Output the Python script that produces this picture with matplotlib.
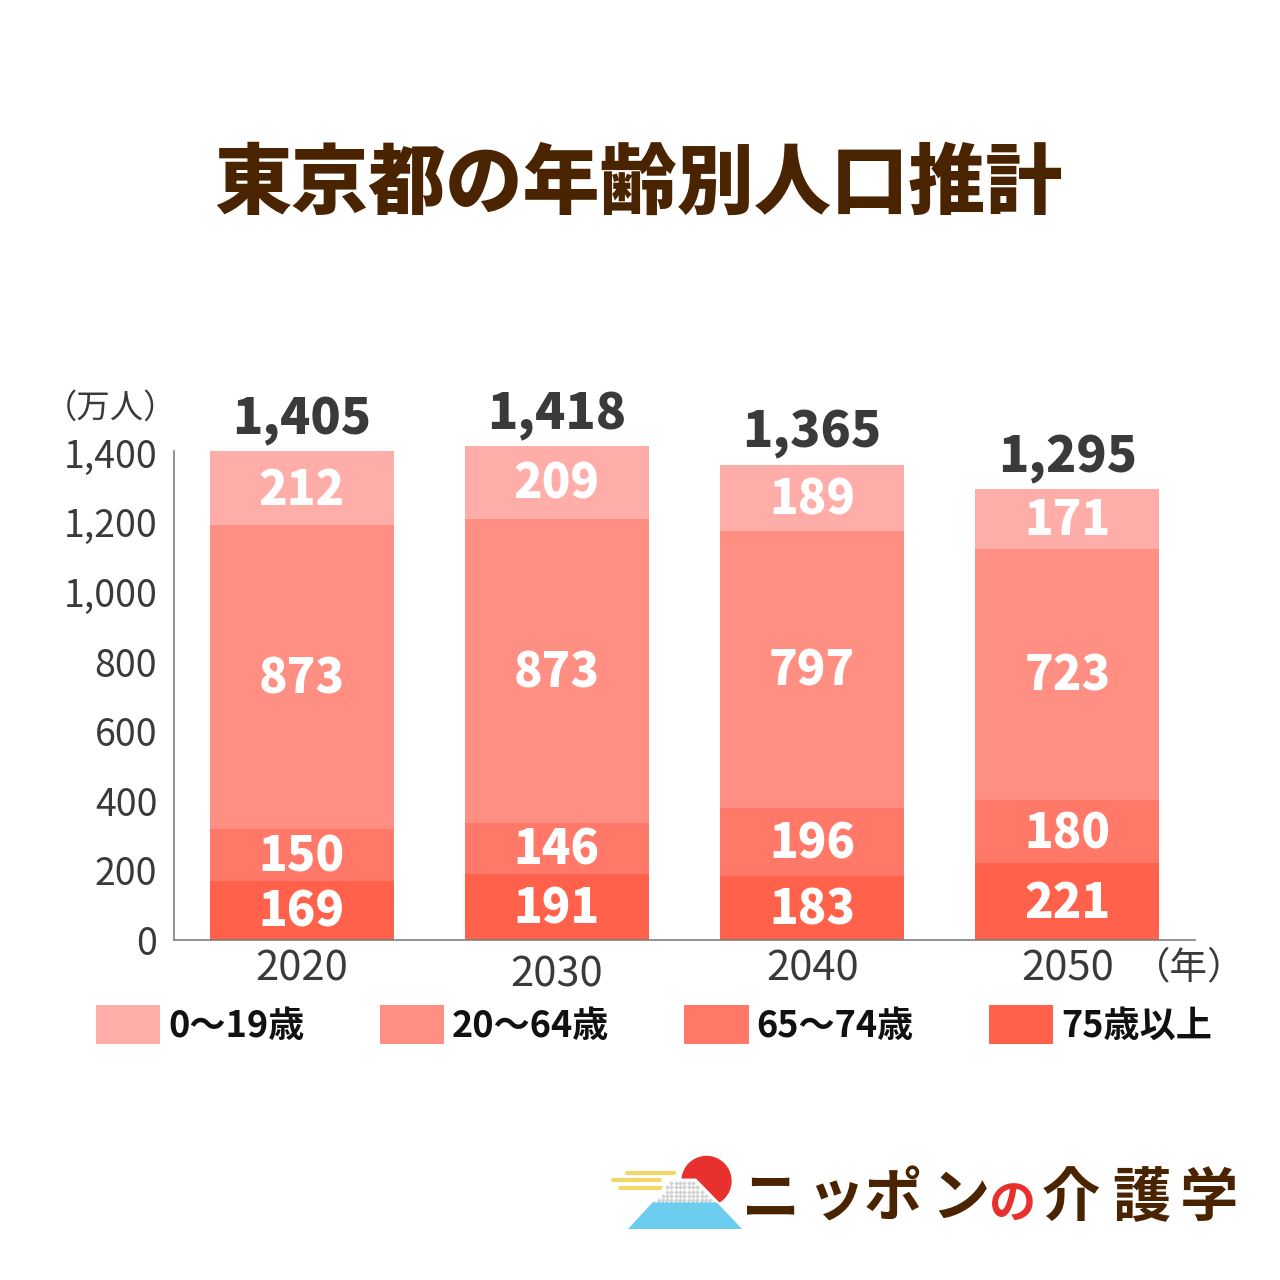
import numpy as np
import matplotlib
matplotlib.use("Agg")
import matplotlib.pyplot as plt
from matplotlib.patches import Circle, Polygon
from matplotlib.path import Path

plt.rcParams['font.family'] = ['Noto Sans CJK JP', 'DejaVu Sans']

# ---------------- data ----------------
years = ['2020', '2030', '2040', '2050']
age_0_19 = [212, 209, 189, 171]
age_20_64 = [873, 873, 797, 723]
age_65_74 = [150, 146, 196, 180]
age_75_plus = [169, 191, 183, 221]
totals = [1405, 1418, 1365, 1295]
series_names = ['0〜19歳', '20〜64歳', '65〜74歳', '75歳以上']
y_ticks = [0, 200, 400, 600, 800, 1000, 1200, 1400]
y_tick_labels = ['0', '200', '400', '600', '800', '1,000', '1,200', '1,400']
title = '東京都の年齢別人口推計'
unit_y = '（万人）'
unit_x = '（年）'

colors = ['#FFADA8', '#FF8F83', '#FF7868', '#FF614A']
BROWN = '#4A2300'
DARK = '#3A3A3A'

W = H = 1280
fig = plt.figure(figsize=(12.8, 12.8), dpi=100)
fig.patch.set_facecolor('white')

def fx(px):
    return px / W

def fy(py):
    return 1 - py / H

ax = fig.add_axes([fx(174), fy(940), fx(1195) - fx(174), (940 - 451) / H])
x = np.arange(len(years))
stack_order = [age_75_plus, age_65_74, age_20_64, age_0_19]
stack_colors = [colors[3], colors[2], colors[1], colors[0]]
stack_names = [series_names[3], series_names[2], series_names[1], series_names[0]]
bottom = np.zeros(len(years))
handles = {}
for vals, col, name in zip(stack_order, stack_colors, stack_names):
    vals = np.array(vals, dtype=float)
    bars = ax.bar(x, vals, width=0.72, bottom=bottom, color=col,
                  edgecolor='none', clip_on=False, zorder=2)
    handles[name] = bars
    for xi, b, v in zip(x, bottom, vals):
        ax.annotate(f'{int(v)}', xy=(xi, b + v / 2), xytext=(0, -1.5),
                    textcoords='offset points', ha='center', va='center',
                    color='white', fontsize=34, fontweight='black', zorder=3,
                    annotation_clip=False)
    bottom = bottom + vals

for xi, top, tot in zip(x, bottom, totals):
    ax.annotate(f'{tot:,}', xy=(xi, top), xytext=(0, 4), textcoords='offset points',
                ha='center', va='bottom', fontsize=36, fontweight='black',
                color=DARK, annotation_clip=False)

ax.set_xlim(-0.5, 3.5)
ax.set_ylim(0, 1405)
ax.set_yticks(y_ticks)
ax.set_yticklabels(y_tick_labels, fontsize=27, color=DARK)
ax.tick_params(axis='y', length=0, pad=12)
ax.set_xticks([])
for s in ['top', 'right']:
    ax.spines[s].set_visible(False)
for s in ['left', 'bottom']:
    ax.spines[s].set_color('#808080')
    ax.spines[s].set_linewidth(1.2)
ax.set_facecolor('white')

year_offsets = [-21, -25, -21, -21]
for xi, yl, off in zip(x, years, year_offsets):
    ax.annotate(yl, xy=(xi, 0), xycoords=('data', 'axes fraction'),
                xytext=(0, off), textcoords='offset points', ha='center', va='center',
                fontsize=30, color=DARK, annotation_clip=False)

# legend
leg_handles = [handles[n] for n in series_names]
leg = fig.legend(leg_handles, series_names, loc='center left',
                 bbox_to_anchor=(fx(96), fy(1025)), ncol=4, frameon=False,
                 fontsize=26, handlelength=1.78, handleheight=1.28,
                 handletextpad=0.22, columnspacing=2.08, borderpad=0, borderaxespad=0)
for t in leg.get_texts():
    t.set_fontweight('bold')
    t.set_color('#111111')

# overlay for title, units and logo (pixel coords)
ov = fig.add_axes([0, 0, 1, 1], zorder=5)
ov.set_xlim(0, W)
ov.set_ylim(H, 0)
ov.axis('off')
ov.patch.set_alpha(0)

ov.text(638, 185, title, ha='center', va='center', fontsize=55.5,
        fontweight='black', color=BROWN)
ov.text(111, 408, unit_y, ha='center', va='center', fontsize=24, color=DARK)
ov.text(1189, 968, unit_x, ha='center', va='center', fontsize=27, color=DARK)

# ---- logo ----
yellow = '#F2D866'
for (x0, x1, yy) in [(627, 674, 1172.5), (613, 660, 1180), (620, 662, 1187.5)]:
    ov.plot([x0, x1], [yy, yy], color=yellow, lw=3.0, solid_capstyle='round')
ov.add_patch(Circle((706.5, 1181), 24.5, color='#E8302E', zorder=2))
mountain = [(628, 1229), (672, 1181), (695, 1181), (742, 1229)]
ov.add_patch(Polygon(mountain, closed=True, facecolor='white', edgecolor='white',
                     lw=3.5, joinstyle='miter', zorder=3))
snow = Path([(652, 1203), (672, 1181), (695, 1181), (717, 1203), (652, 1203)])
gx, gy = np.meshgrid(np.arange(650, 720, 4.3), np.arange(1183, 1205, 4.3))
pts = np.column_stack([gx.ravel(), gy.ravel()])
inside = snow.contains_points(pts, radius=-1.0)
ov.scatter(pts[inside, 0], pts[inside, 1], marker='D', s=6, color='#D4D4D4',
           linewidths=0, zorder=4)
xs = np.linspace(652, 717, 120)
wave = 1203 - 1.2 * np.abs(np.sin((xs - 652) / 4.3 * np.pi))
blue_pts = [(628, 1229)] + list(zip(xs, wave)) + [(742, 1229)]
ov.add_patch(Polygon(blue_pts, closed=True, facecolor='#6CCDEF', edgecolor='none',
                     zorder=5))

logo_chars = ['ニ', 'ッ', 'ポ', 'ン', 'の', '介', '護', '学']
logo_cx = [771, 835, 893, 960, 1013, 1071, 1141, 1209]
logo_fs = [42, 42, 42, 42, 34, 42, 42, 42]
logo_cy = [1199, 1199, 1199, 1199, 1205, 1199, 1199, 1199]
for ch, cx, cy, fs in zip(logo_chars, logo_cx, logo_cy, logo_fs):
    col = '#E8302E' if ch == 'の' else BROWN
    ov.text(cx, cy, ch, ha='center', va='center', fontsize=fs,
            fontweight='bold', color=col, zorder=6)

fig.savefig('out.png', dpi=100, facecolor='white')
